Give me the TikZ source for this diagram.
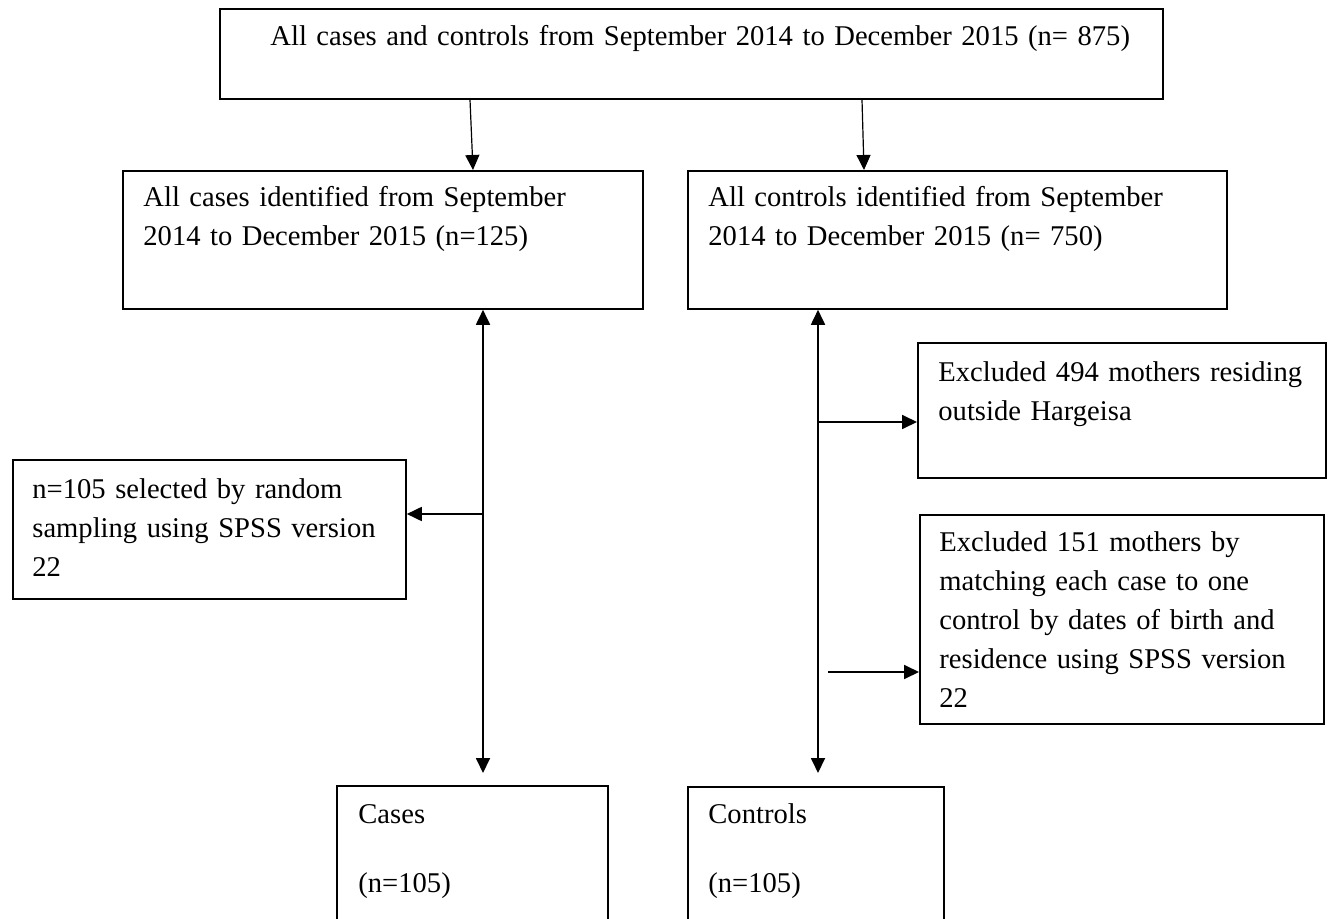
\documentclass[tikz,border=0pt]{standalone}
\usepackage{fontspec}
\setmainfont{Liberation Serif}
\usetikzlibrary{arrows.meta}

\begin{document}
\begin{tikzpicture}[x=0.5pt, y=-0.5pt,
  >={Triangle[length=7.5pt, width=7pt]},
  box/.style={draw, line width=0.9pt, anchor=north west, inner sep=0pt},
  txt/.style={anchor=base west, inner sep=0pt, align=left,
    font=\fontsize{14.3pt}{19.5pt}\selectfont},
  flow/.style={->, line width=0.9pt},
  thinflow/.style={->, line width=0.6pt}
]
  \useasboundingbox (0,0) rectangle (1332,919);

  % boxes
  \node[box, minimum width=471.5pt, minimum height=45pt] (all) at (219,8) {};
  \node[box, minimum width=260pt, minimum height=69pt] (allcases) at (122,170) {};
  \node[box, minimum width=269.5pt, minimum height=69pt] (allctrl) at (687,170) {};
  \node[box, minimum width=196.5pt, minimum height=69.5pt] (sampling) at (12,459) {};
  \node[box, minimum width=204pt, minimum height=67.5pt] (excla) at (917,342) {};
  \node[box, minimum width=202pt, minimum height=104.5pt] (exclb) at (919,514) {};
  \node[box, minimum width=135.5pt, minimum height=75pt] (cases) at (336,785) {};
  \node[box, minimum width=128pt, minimum height=75pt] (ctrls) at (687,786) {};

  % texts
  \node[txt, text width=460pt] (allt) at (270,46)
    {All cases and controls from September 2014 to December 2015 (n= 875)};
  \node[txt, text width=245pt] (allcasest) at (143,207)
    {All cases identified from September\\2014 to December 2015 (n=125)};
  \node[txt, text width=255pt] (allctrlt) at (708,207)
    {All controls identified from September\\2014 to December 2015 (n= 750)};
  \node[txt, text width=185pt] (samplingt) at (32,498)
    {n=105 selected by random\\sampling using SPSS version\\22};
  \node[txt, text width=192pt] (exclat) at (938,381)
    {Excluded 494 mothers residing\\outside Hargeisa};
  \node[txt, text width=190pt] (exclbt) at (939,551)
    {Excluded 151 mothers by\\matching each case to one\\control by dates of birth and\\residence using SPSS version\\22};
  \node[txt, text width=120pt] (casest) at (358,823) {Cases\\[15pt](n=105)};
  \node[txt, text width=115pt] (ctrlst) at (708,823) {Controls\\[15pt](n=105)};

  % connectors
  \coordinate (ca) at (470,0);
  \coordinate (cb) at (473,0);
  \coordinate (cc) at (862,0);
  \coordinate (cd) at (864,0);
  \coordinate (lt) at (483,0);
  \coordinate (rt) at (818,0);
  \coordinate (bs) at (483,514);
  \coordinate (ba) at (818,422);
  \coordinate (bb) at (828,672);

  \draw[thinflow] (all.south -| ca) -- (allcases.north -| cb);
  \draw[thinflow] (all.south -| cc) -- (allctrl.north -| cd);
  \draw[flow, <->, shorten >=6pt] (allcases.south -| lt) -- (cases.north -| lt);
  \draw[flow, <->, shorten >=6.5pt] (allctrl.south -| rt) -- (ctrls.north -| rt);
  \draw[flow] (bs) -- (bs -| sampling.east);
  \draw[flow] (ba) -- (ba -| excla.west);
  \draw[flow] (bb) -- (bb -| exclb.west);
\end{tikzpicture}
\end{document}
